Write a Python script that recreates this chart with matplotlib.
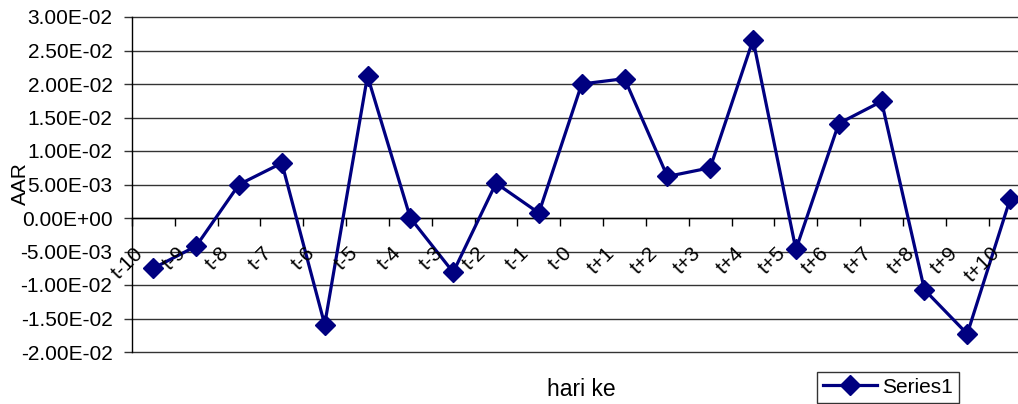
import matplotlib
matplotlib.use("Agg")
import matplotlib.pyplot as plt
import numpy as np

categories = ["t-10", "t-9", "t-8", "t-7", "t-6", "t-5", "t-4", "t-3", "t-2", "t-1", "t-0",
              "t+1", "t+2", "t+3", "t+4", "t+5", "t+6", "t+7", "t+8", "t+9", "t+10"]
aar = [-0.0075, -0.0042, 0.0050, 0.0082, -0.0159, 0.0212, 0.0000, -0.0081, 0.0052, 0.00075,
       0.0200, 0.0208, 0.0062, 0.0075, 0.0266, -0.0047, 0.0141, 0.0174, -0.0107, -0.0173, 0.0028]
series_name = "Series1"
x_title = "hari ke"
y_title = "AAR"
y_ticks = [-0.02, -0.015, -0.01, -0.005, 0.0, 0.005, 0.01, 0.015, 0.02, 0.025, 0.03]

plt.rcParams['font.family'] = ['Liberation Sans', 'DejaVu Sans']
FS = 15
W, H = 1018, 404
fig = plt.figure(figsize=(W/100, H/100), dpi=100)
left, right, top, bottom = 131.9, 1031.5, 17, 352
ax = fig.add_axes([left/W, 1-bottom/H, (right-left)/W, (bottom-top)/H])

x = np.arange(len(categories))
ax.plot(x, aar, color='#000080', lw=2.3, marker='D', markersize=10.5, label=series_name, zorder=3,
        clip_on=False)

ax.set_xlim(-0.5, len(categories)-0.5)
ax.set_ylim(-0.02, 0.03)
ax.set_yticks(y_ticks)
ax.set_yticklabels([f"{v:.2E}" for v in y_ticks], fontsize=FS)
for v in y_ticks:
    ax.axhline(v, color='#333333', lw=1.0, zorder=0.5, clip_on=False)
ax.set_axisbelow(True)

ax.set_xticks(np.arange(-0.5, len(categories), 1))
ax.set_xticklabels([])
ax.tick_params(axis='x', direction='out', length=6, width=1, color='black')
ax.tick_params(axis='y', direction='out', length=6, width=1, color='#333333', pad=8)

ax.spines['top'].set_visible(False)
ax.spines['right'].set_visible(False)
ax.spines['bottom'].set_position(('data', 0))
ax.spines['bottom'].set_linewidth(1.0)
ax.spines['left'].set_linewidth(1.0)

for i, lab in enumerate(categories):
    ax.text(i - 0.3, -0.0048, lab, rotation=45, ha='right', va='center',
            rotation_mode='anchor', fontsize=FS)

fig.text(20/W, 1-184/H, y_title, rotation=90, ha='center', va='center', fontsize=FS)
fig.text(581/W, 1-390/H, x_title, ha='center', va='center', fontsize=16.5)

leg = fig.legend(loc='lower left', bbox_to_anchor=(817/W, 1/H), fontsize=FS,
                 frameon=True, fancybox=False, handlelength=2.6, borderpad=0.3,
                 handletextpad=0.2, borderaxespad=0)
leg.get_frame().set_edgecolor('black')
leg.get_frame().set_linewidth(1.0)

fig.savefig("out.png", dpi=100)
